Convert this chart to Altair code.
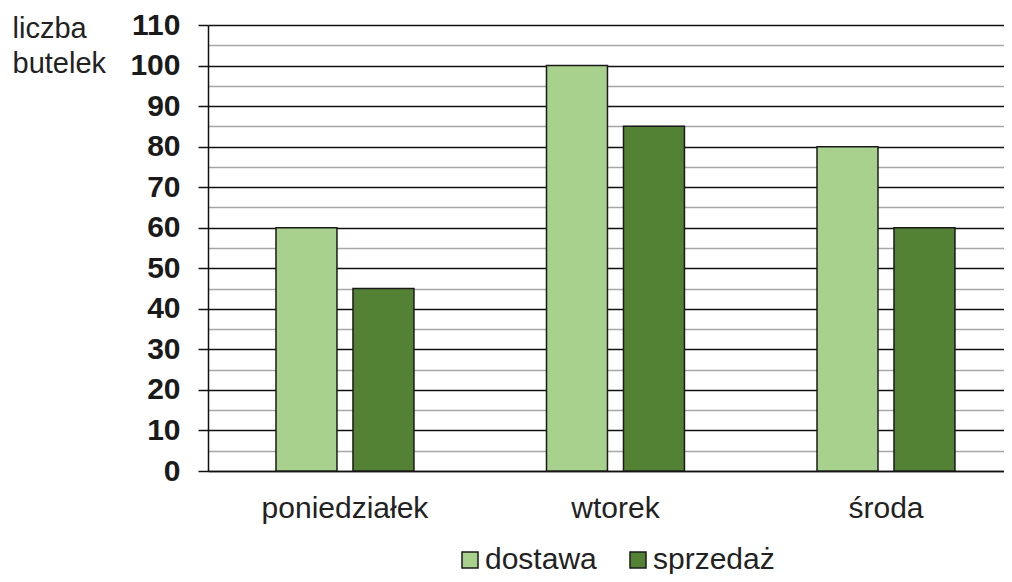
import altair as alt
import pandas as pd

days = ["poniedziałek", "wtorek", "środa"]
series = ["dostawa", "sprzedaż"]
dostawa = [60, 100, 80]
sprzedaz = [45, 85, 60]
y_ticks = list(range(0, 115, 5))
colors = ["#a9d18e", "#548235"]

rows = []
for d, a, b in zip(days, dostawa, sprzedaz):
    rows.append({"dzien": d, "seria": series[0], "wartosc": a})
    rows.append({"dzien": d, "seria": series[1], "wartosc": b})
df = pd.DataFrame(rows)

FONT = "Liberation Sans"
major = "datum.value % 10 === 0"

chart = alt.Chart(df).mark_bar(stroke="#1a1a1a", strokeWidth=1.5).encode(
    x=alt.X("dzien:N", sort=days, title=None,
            scale=alt.Scale(paddingInner=0.49, paddingOuter=0.2163, align=0.581),
            axis=alt.Axis(labelAngle=0, ticks=False, domain=True, domainColor="#111",
                          domainWidth=1.5, labelPadding=22, labelFontSize=30,
                          labelFont=FONT, labelColor="#222", grid=False)),
    xOffset=alt.XOffset("seria:N", sort=series, scale=alt.Scale(paddingInner=0.208)),
    y=alt.Y("wartosc:Q", scale=alt.Scale(domain=[0, 110], nice=False),
            axis=alt.Axis(values=y_ticks,
                          labelExpr=f"{major} ? datum.label : ''",
                          grid=True,
                          gridColor={"condition": {"test": major, "value": "#111111"}, "value": "#a6a6a6"},
                          gridWidth=1.5,
                          tickOpacity={"condition": {"test": major, "value": 1}, "value": 0},
                          tickColor="#111", tickWidth=1.5, tickSize=10,
                          domainColor="#111", domainWidth=1.5,
                          labelFont=FONT, labelFontSize=30, labelFontWeight="bold",
                          labelColor="#1a1a1a", labelPadding=18,
                          title=["liczba", "butelek"], titleAngle=0, titleAlign="left",
                          titleBaseline="alphabetic", titleX=-196, titleY=12,
                          titleFont=FONT, titleFontSize=29, titleFontWeight="normal",
                          titleColor="#222", titleLineHeight=35)),
    color=alt.Color("seria:N", sort=series,
                    scale=alt.Scale(domain=series, range=colors),
                    legend=alt.Legend(title=None, orient="none", direction="horizontal",
                                      legendX=247, legendY=520,
                                      symbolType="square", symbolSize=256,
                                      symbolStrokeColor="#1a1a1a", symbolStrokeWidth=1.5,
                                      symbolOpacity=1,
                                      labelFont=FONT, labelFontSize=30, labelColor="#222",
                                      labelOffset=0, columnPadding=26)),
).properties(
    width=796, height=446,
    autosize=alt.AutoSizeParams(type="none"),
    padding={"left": 200, "top": 17, "right": 0, "bottom": 103},
).configure_view(stroke=None)

chart.save("out.html", embed_options={"renderer": "svg", "actions": False})
